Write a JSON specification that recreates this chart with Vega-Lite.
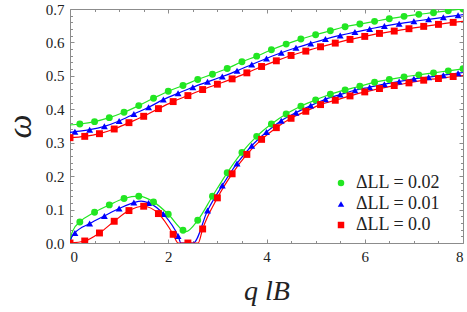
{
  "$schema": "https://vega.github.io/schema/vega-lite/v6.json",
  "width": 393,
  "height": 234,
  "autosize": {"type": "none"},
  "padding": {"left": 70, "top": 9, "right": 4, "bottom": 69},
  "background": "white",
  "config": {
    "font": "'Liberation Serif', 'Times New Roman', serif",
    "view": {"stroke": "#8c8c8c", "strokeWidth": 1},
    "axis": {
      "domain": false, "grid": false, "tickColor": "#8c8c8c",
      "labelFont": "'Liberation Serif', 'Times New Roman', serif", "labelFontSize": 15, "labelColor": "#222222",
      "titleFont": "'Liberation Serif', 'Times New Roman', serif", "titleFontWeight": "normal", "titleFontStyle": "italic", "titleColor": "#222222"
    },
    "legend": {
      "labelFont": "'Liberation Serif', 'Times New Roman', serif", "labelFontSize": 18, "labelColor": "#222222"
    }
  },
  "data": {
    "values": [
      {"d": "0.02", "b": "up", "q": 0.0, "w": 0.353, "marker": false},
      {"d": "0.02", "b": "up", "q": 0.2, "w": 0.356, "marker": true},
      {"d": "0.02", "b": "up", "q": 0.5, "w": 0.363, "marker": true},
      {"d": "0.02", "b": "up", "q": 0.8, "w": 0.375, "marker": true},
      {"d": "0.02", "b": "up", "q": 1.1, "w": 0.391, "marker": true},
      {"d": "0.02", "b": "up", "q": 1.4, "w": 0.411, "marker": true},
      {"d": "0.02", "b": "up", "q": 1.7, "w": 0.433, "marker": true},
      {"d": "0.02", "b": "up", "q": 2.0, "w": 0.454, "marker": true},
      {"d": "0.02", "b": "up", "q": 2.3, "w": 0.471, "marker": true},
      {"d": "0.02", "b": "up", "q": 2.6, "w": 0.489, "marker": true},
      {"d": "0.02", "b": "up", "q": 2.9, "w": 0.505, "marker": true},
      {"d": "0.02", "b": "up", "q": 3.2, "w": 0.522, "marker": true},
      {"d": "0.02", "b": "up", "q": 3.5, "w": 0.542, "marker": true},
      {"d": "0.02", "b": "up", "q": 3.8, "w": 0.559, "marker": true},
      {"d": "0.02", "b": "up", "q": 4.1, "w": 0.578, "marker": true},
      {"d": "0.02", "b": "up", "q": 4.4, "w": 0.595, "marker": true},
      {"d": "0.02", "b": "up", "q": 4.7, "w": 0.610, "marker": true},
      {"d": "0.02", "b": "up", "q": 5.0, "w": 0.623, "marker": true},
      {"d": "0.02", "b": "up", "q": 5.3, "w": 0.635, "marker": true},
      {"d": "0.02", "b": "up", "q": 5.6, "w": 0.647, "marker": true},
      {"d": "0.02", "b": "up", "q": 5.9, "w": 0.655, "marker": true},
      {"d": "0.02", "b": "up", "q": 6.2, "w": 0.663, "marker": true},
      {"d": "0.02", "b": "up", "q": 6.5, "w": 0.671, "marker": true},
      {"d": "0.02", "b": "up", "q": 6.8, "w": 0.678, "marker": true},
      {"d": "0.02", "b": "up", "q": 7.1, "w": 0.684, "marker": true},
      {"d": "0.02", "b": "up", "q": 7.4, "w": 0.689, "marker": true},
      {"d": "0.02", "b": "up", "q": 7.7, "w": 0.695, "marker": true},
      {"d": "0.02", "b": "up", "q": 8.0, "w": 0.700, "marker": true},

      {"d": "0.02", "b": "low", "q": 0.0, "w": 0.0, "marker": false},
      {"d": "0.02", "b": "low", "q": 0.02, "w": 0.02, "marker": false},
      {"d": "0.02", "b": "low", "q": 0.07, "w": 0.04, "marker": false},
      {"d": "0.02", "b": "low", "q": 0.2, "w": 0.063, "marker": true},
      {"d": "0.02", "b": "low", "q": 0.5, "w": 0.092, "marker": true},
      {"d": "0.02", "b": "low", "q": 0.8, "w": 0.114, "marker": true},
      {"d": "0.02", "b": "low", "q": 1.1, "w": 0.133, "marker": true},
      {"d": "0.02", "b": "low", "q": 1.4, "w": 0.140, "marker": true},
      {"d": "0.02", "b": "low", "q": 1.7, "w": 0.123, "marker": true},
      {"d": "0.02", "b": "low", "q": 2.0, "w": 0.086, "marker": true},
      {"d": "0.02", "b": "low", "q": 2.3, "w": 0.038, "marker": true},
      {"d": "0.02", "b": "low", "q": 2.36, "w": 0.034, "marker": false},
      {"d": "0.02", "b": "low", "q": 2.6, "w": 0.068, "marker": true},
      {"d": "0.02", "b": "low", "q": 2.9, "w": 0.140, "marker": true},
      {"d": "0.02", "b": "low", "q": 3.2, "w": 0.210, "marker": true},
      {"d": "0.02", "b": "low", "q": 3.5, "w": 0.271, "marker": true},
      {"d": "0.02", "b": "low", "q": 3.8, "w": 0.319, "marker": true},
      {"d": "0.02", "b": "low", "q": 4.1, "w": 0.356, "marker": true},
      {"d": "0.02", "b": "low", "q": 4.4, "w": 0.386, "marker": true},
      {"d": "0.02", "b": "low", "q": 4.7, "w": 0.409, "marker": true},
      {"d": "0.02", "b": "low", "q": 5.0, "w": 0.428, "marker": true},
      {"d": "0.02", "b": "low", "q": 5.3, "w": 0.445, "marker": true},
      {"d": "0.02", "b": "low", "q": 5.6, "w": 0.458, "marker": true},
      {"d": "0.02", "b": "low", "q": 5.9, "w": 0.469, "marker": true},
      {"d": "0.02", "b": "low", "q": 6.2, "w": 0.481, "marker": true},
      {"d": "0.02", "b": "low", "q": 6.5, "w": 0.489, "marker": true},
      {"d": "0.02", "b": "low", "q": 6.8, "w": 0.497, "marker": true},
      {"d": "0.02", "b": "low", "q": 7.1, "w": 0.503, "marker": true},
      {"d": "0.02", "b": "low", "q": 7.4, "w": 0.509, "marker": true},
      {"d": "0.02", "b": "low", "q": 7.7, "w": 0.515, "marker": true},
      {"d": "0.02", "b": "low", "q": 8.0, "w": 0.521, "marker": true},

      {"d": "0.01", "b": "up", "q": 0.0, "w": 0.331, "marker": false},
      {"d": "0.01", "b": "up", "q": 0.1, "w": 0.333, "marker": true},
      {"d": "0.01", "b": "up", "q": 0.4, "w": 0.339, "marker": true},
      {"d": "0.01", "b": "up", "q": 0.7, "w": 0.349, "marker": true},
      {"d": "0.01", "b": "up", "q": 1.0, "w": 0.365, "marker": true},
      {"d": "0.01", "b": "up", "q": 1.3, "w": 0.386, "marker": true},
      {"d": "0.01", "b": "up", "q": 1.6, "w": 0.406, "marker": true},
      {"d": "0.01", "b": "up", "q": 1.9, "w": 0.429, "marker": true},
      {"d": "0.01", "b": "up", "q": 2.2, "w": 0.448, "marker": true},
      {"d": "0.01", "b": "up", "q": 2.5, "w": 0.466, "marker": true},
      {"d": "0.01", "b": "up", "q": 2.8, "w": 0.482, "marker": true},
      {"d": "0.01", "b": "up", "q": 3.1, "w": 0.498, "marker": true},
      {"d": "0.01", "b": "up", "q": 3.4, "w": 0.515, "marker": true},
      {"d": "0.01", "b": "up", "q": 3.7, "w": 0.534, "marker": true},
      {"d": "0.01", "b": "up", "q": 4.0, "w": 0.552, "marker": true},
      {"d": "0.01", "b": "up", "q": 4.3, "w": 0.569, "marker": true},
      {"d": "0.01", "b": "up", "q": 4.6, "w": 0.584, "marker": true},
      {"d": "0.01", "b": "up", "q": 4.9, "w": 0.597, "marker": true},
      {"d": "0.01", "b": "up", "q": 5.2, "w": 0.610, "marker": true},
      {"d": "0.01", "b": "up", "q": 5.5, "w": 0.621, "marker": true},
      {"d": "0.01", "b": "up", "q": 5.8, "w": 0.631, "marker": true},
      {"d": "0.01", "b": "up", "q": 6.1, "w": 0.640, "marker": true},
      {"d": "0.01", "b": "up", "q": 6.4, "w": 0.649, "marker": true},
      {"d": "0.01", "b": "up", "q": 6.7, "w": 0.656, "marker": true},
      {"d": "0.01", "b": "up", "q": 7.0, "w": 0.663, "marker": true},
      {"d": "0.01", "b": "up", "q": 7.3, "w": 0.669, "marker": true},
      {"d": "0.01", "b": "up", "q": 7.6, "w": 0.675, "marker": true},
      {"d": "0.01", "b": "up", "q": 7.9, "w": 0.681, "marker": true},
      {"d": "0.01", "b": "up", "q": 8.0, "w": 0.683, "marker": false},

      {"d": "0.01", "b": "low", "q": 0.0, "w": 0.0, "marker": false},
      {"d": "0.01", "b": "low", "q": 0.03, "w": 0.016, "marker": false},
      {"d": "0.01", "b": "low", "q": 0.1, "w": 0.030, "marker": true},
      {"d": "0.01", "b": "low", "q": 0.4, "w": 0.058, "marker": true},
      {"d": "0.01", "b": "low", "q": 0.7, "w": 0.081, "marker": true},
      {"d": "0.01", "b": "low", "q": 1.0, "w": 0.103, "marker": true},
      {"d": "0.01", "b": "low", "q": 1.3, "w": 0.121, "marker": true},
      {"d": "0.01", "b": "low", "q": 1.45, "w": 0.125, "marker": false},
      {"d": "0.01", "b": "low", "q": 1.6, "w": 0.120, "marker": true},
      {"d": "0.01", "b": "low", "q": 1.9, "w": 0.087, "marker": true},
      {"d": "0.01", "b": "low", "q": 2.2, "w": 0.021, "marker": true},
      {"d": "0.01", "b": "low", "q": 2.26, "w": 0.0, "marker": false},
      {"d": "0.01", "b": "low", "q": 2.51, "w": 0.0, "marker": false},
      {"d": "0.01", "b": "low", "q": 2.8, "w": 0.097, "marker": true},
      {"d": "0.01", "b": "low", "q": 3.1, "w": 0.172, "marker": true},
      {"d": "0.01", "b": "low", "q": 3.4, "w": 0.238, "marker": true},
      {"d": "0.01", "b": "low", "q": 3.7, "w": 0.291, "marker": true},
      {"d": "0.01", "b": "low", "q": 4.0, "w": 0.332, "marker": true},
      {"d": "0.01", "b": "low", "q": 4.3, "w": 0.366, "marker": true},
      {"d": "0.01", "b": "low", "q": 4.6, "w": 0.390, "marker": true},
      {"d": "0.01", "b": "low", "q": 4.9, "w": 0.411, "marker": true},
      {"d": "0.01", "b": "low", "q": 5.2, "w": 0.430, "marker": true},
      {"d": "0.01", "b": "low", "q": 5.5, "w": 0.444, "marker": true},
      {"d": "0.01", "b": "low", "q": 5.8, "w": 0.457, "marker": true},
      {"d": "0.01", "b": "low", "q": 6.1, "w": 0.466, "marker": true},
      {"d": "0.01", "b": "low", "q": 6.4, "w": 0.475, "marker": true},
      {"d": "0.01", "b": "low", "q": 6.7, "w": 0.483, "marker": true},
      {"d": "0.01", "b": "low", "q": 7.0, "w": 0.491, "marker": true},
      {"d": "0.01", "b": "low", "q": 7.3, "w": 0.496, "marker": true},
      {"d": "0.01", "b": "low", "q": 7.6, "w": 0.502, "marker": true},
      {"d": "0.01", "b": "low", "q": 7.9, "w": 0.508, "marker": true},
      {"d": "0.01", "b": "low", "q": 8.0, "w": 0.510, "marker": false},

      {"d": "0.0", "b": "up", "q": 0.0, "w": 0.315, "marker": true},
      {"d": "0.0", "b": "up", "q": 0.3, "w": 0.319, "marker": true},
      {"d": "0.0", "b": "up", "q": 0.6, "w": 0.327, "marker": true},
      {"d": "0.0", "b": "up", "q": 0.9, "w": 0.341, "marker": true},
      {"d": "0.0", "b": "up", "q": 1.2, "w": 0.360, "marker": true},
      {"d": "0.0", "b": "up", "q": 1.5, "w": 0.379, "marker": true},
      {"d": "0.0", "b": "up", "q": 1.8, "w": 0.402, "marker": true},
      {"d": "0.0", "b": "up", "q": 2.1, "w": 0.423, "marker": true},
      {"d": "0.0", "b": "up", "q": 2.4, "w": 0.441, "marker": true},
      {"d": "0.0", "b": "up", "q": 2.7, "w": 0.459, "marker": true},
      {"d": "0.0", "b": "up", "q": 3.0, "w": 0.475, "marker": true},
      {"d": "0.0", "b": "up", "q": 3.3, "w": 0.491, "marker": true},
      {"d": "0.0", "b": "up", "q": 3.6, "w": 0.509, "marker": true},
      {"d": "0.0", "b": "up", "q": 3.9, "w": 0.528, "marker": true},
      {"d": "0.0", "b": "up", "q": 4.2, "w": 0.545, "marker": true},
      {"d": "0.0", "b": "up", "q": 4.5, "w": 0.561, "marker": true},
      {"d": "0.0", "b": "up", "q": 4.8, "w": 0.574, "marker": true},
      {"d": "0.0", "b": "up", "q": 5.1, "w": 0.587, "marker": true},
      {"d": "0.0", "b": "up", "q": 5.4, "w": 0.598, "marker": true},
      {"d": "0.0", "b": "up", "q": 5.7, "w": 0.609, "marker": true},
      {"d": "0.0", "b": "up", "q": 6.0, "w": 0.618, "marker": true},
      {"d": "0.0", "b": "up", "q": 6.3, "w": 0.627, "marker": true},
      {"d": "0.0", "b": "up", "q": 6.6, "w": 0.634, "marker": true},
      {"d": "0.0", "b": "up", "q": 6.9, "w": 0.641, "marker": true},
      {"d": "0.0", "b": "up", "q": 7.2, "w": 0.648, "marker": true},
      {"d": "0.0", "b": "up", "q": 7.5, "w": 0.654, "marker": true},
      {"d": "0.0", "b": "up", "q": 7.8, "w": 0.660, "marker": true},
      {"d": "0.0", "b": "up", "q": 8.0, "w": 0.663, "marker": false},

      {"d": "0.0", "b": "low", "q": 0.0, "w": 0.0, "marker": true},
      {"d": "0.0", "b": "low", "q": 0.3, "w": 0.006, "marker": true},
      {"d": "0.0", "b": "low", "q": 0.6, "w": 0.030, "marker": true},
      {"d": "0.0", "b": "low", "q": 0.9, "w": 0.065, "marker": true},
      {"d": "0.0", "b": "low", "q": 1.2, "w": 0.097, "marker": true},
      {"d": "0.0", "b": "low", "q": 1.5, "w": 0.110, "marker": true},
      {"d": "0.0", "b": "low", "q": 1.8, "w": 0.088, "marker": true},
      {"d": "0.0", "b": "low", "q": 2.1, "w": 0.026, "marker": true},
      {"d": "0.0", "b": "low", "q": 2.2, "w": 0.0, "marker": false},
      {"d": "0.0", "b": "low", "q": 2.4, "w": 0.0, "marker": true},
      {"d": "0.0", "b": "low", "q": 2.61, "w": 0.0, "marker": false},
      {"d": "0.0", "b": "low", "q": 2.7, "w": 0.042, "marker": true},
      {"d": "0.0", "b": "low", "q": 3.0, "w": 0.135, "marker": true},
      {"d": "0.0", "b": "low", "q": 3.3, "w": 0.207, "marker": true},
      {"d": "0.0", "b": "low", "q": 3.6, "w": 0.265, "marker": true},
      {"d": "0.0", "b": "low", "q": 3.9, "w": 0.310, "marker": true},
      {"d": "0.0", "b": "low", "q": 4.2, "w": 0.345, "marker": true},
      {"d": "0.0", "b": "low", "q": 4.5, "w": 0.373, "marker": true},
      {"d": "0.0", "b": "low", "q": 4.8, "w": 0.394, "marker": true},
      {"d": "0.0", "b": "low", "q": 5.1, "w": 0.414, "marker": true},
      {"d": "0.0", "b": "low", "q": 5.4, "w": 0.427, "marker": true},
      {"d": "0.0", "b": "low", "q": 5.7, "w": 0.440, "marker": true},
      {"d": "0.0", "b": "low", "q": 6.0, "w": 0.452, "marker": true},
      {"d": "0.0", "b": "low", "q": 6.3, "w": 0.462, "marker": true},
      {"d": "0.0", "b": "low", "q": 6.6, "w": 0.471, "marker": true},
      {"d": "0.0", "b": "low", "q": 6.9, "w": 0.479, "marker": true},
      {"d": "0.0", "b": "low", "q": 7.2, "w": 0.487, "marker": true},
      {"d": "0.0", "b": "low", "q": 7.5, "w": 0.492, "marker": true},
      {"d": "0.0", "b": "low", "q": 7.8, "w": 0.498, "marker": true},
      {"d": "0.0", "b": "low", "q": 8.0, "w": 0.501, "marker": false}
    ]
  },
  "resolve": {"axis": {"x": "independent", "y": "independent"}},
  "layer": [
    {
      "mark": {"type": "line", "interpolate": "monotone", "strokeWidth": 1.2, "clip": true},
      "encoding": {
        "x": {"field": "q", "type": "quantitative", "scale": {"domain": [0, 8], "nice": false},
          "axis": {"orient": "bottom", "values": [0, 2, 4, 6, 8], "tickSize": -4, "labelPadding": 10, "title": "q lB", "titleFontSize": 28, "titlePadding": 13}},
        "y": {"field": "w", "type": "quantitative", "scale": {"domain": [0, 0.7], "nice": false},
          "axis": {"orient": "left", "values": [0, 0.1, 0.2, 0.3, 0.4, 0.5, 0.6, 0.7], "format": ".1f", "tickSize": -4, "labelPadding": 10, "title": "ω", "titleFontSize": 34, "titlePadding": 8}},
        "color": {"field": "d", "type": "nominal", "sort": ["0.02", "0.01", "0.0"],
          "scale": {"domain": ["0.02", "0.01", "0.0"], "range": ["#22e622", "#0000ff", "#ff0000"]}},
        "detail": {"field": "b"},
        "order": {"field": "q"}
      }
    },
    {
      "transform": [{"filter": "datum.marker"}],
      "mark": {"type": "point", "filled": true, "opacity": 1, "size": 48, "clip": true},
      "encoding": {
        "x": {"field": "q", "type": "quantitative",
          "axis": {"orient": "bottom", "values": [0.5, 1, 1.5, 2.5, 3, 3.5, 4.5, 5, 5.5, 6.5, 7, 7.5], "tickSize": -2.5, "labels": false, "title": null}},
        "y": {"field": "w", "type": "quantitative",
          "axis": {"orient": "left", "values": [0.02, 0.04, 0.06, 0.08, 0.12, 0.14, 0.16, 0.18, 0.22, 0.24, 0.26, 0.28, 0.32, 0.34, 0.36, 0.38, 0.42, 0.44, 0.46, 0.48, 0.52, 0.54, 0.56, 0.58, 0.62, 0.64, 0.66, 0.68], "tickSize": -2.5, "labels": false, "title": null}},
        "color": {"field": "d", "type": "nominal", "sort": ["0.02", "0.01", "0.0"],
          "legend": {"orient": "none", "legendX": 262, "legendY": 165, "padding": 0, "title": null, "symbolSize": 42, "symbolStrokeWidth": 0, "labelOffset": 6, "rowPadding": 3, "labelExpr": "'ΔLL = ' + datum.label"}},
        "shape": {"field": "d", "type": "nominal", "sort": ["0.02", "0.01", "0.0"],
          "scale": {"domain": ["0.02", "0.01", "0.0"], "range": ["circle", "triangle-up", "square"]},
          "legend": {"orient": "none", "legendX": 262, "legendY": 165, "padding": 0, "title": null, "symbolSize": 42, "symbolStrokeWidth": 0, "labelOffset": 6, "rowPadding": 3, "labelExpr": "'ΔLL = ' + datum.label"}}
      }
    },
    {
      "transform": [{"filter": "datum.marker"}],
      "mark": {"type": "point", "opacity": 0},
      "encoding": {
        "x": {"field": "q", "type": "quantitative",
          "axis": {"orient": "top", "values": [0, 2, 4, 6, 8], "tickSize": -4, "labels": false, "title": null}},
        "y": {"field": "w", "type": "quantitative",
          "axis": {"orient": "right", "values": [0, 0.1, 0.2, 0.3, 0.4, 0.5, 0.6, 0.7], "tickSize": -4, "labels": false, "title": null}}
      }
    },
    {
      "transform": [{"filter": "datum.marker"}],
      "mark": {"type": "point", "opacity": 0},
      "encoding": {
        "x": {"field": "q", "type": "quantitative",
          "axis": {"orient": "top", "values": [0.5, 1, 1.5, 2.5, 3, 3.5, 4.5, 5, 5.5, 6.5, 7, 7.5], "tickSize": -2.5, "labels": false, "title": null}},
        "y": {"field": "w", "type": "quantitative",
          "axis": {"orient": "right", "values": [0.02, 0.04, 0.06, 0.08, 0.12, 0.14, 0.16, 0.18, 0.22, 0.24, 0.26, 0.28, 0.32, 0.34, 0.36, 0.38, 0.42, 0.44, 0.46, 0.48, 0.52, 0.54, 0.56, 0.58, 0.62, 0.64, 0.66, 0.68], "tickSize": -2.5, "labels": false, "title": null}}
      }
    }
  ]
}
